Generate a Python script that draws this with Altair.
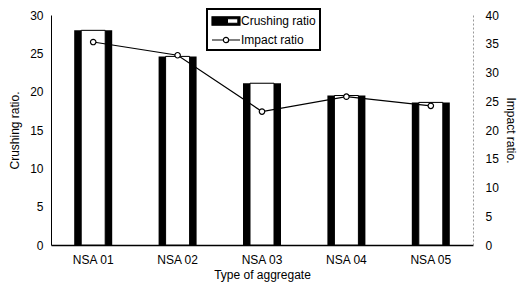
import altair as alt
import pandas as pd

types = ["NSA 01", "NSA 02", "NSA 03", "NSA 04", "NSA 05"]
crushing = [28.0, 24.6, 21.1, 19.5, 18.6]
impact = [35.3, 33.0, 23.2, 25.8, 24.2]
series = ["Crushing ratio", "Impact ratio"]
left_ticks = [0, 5, 10, 15, 20, 25, 30]
right_ticks = [0, 5, 10, 15, 20, 25, 30, 35, 40]

df = pd.DataFrame({"type": types, "crushing": crushing, "impact": impact})
df["series"] = series[1]

FONT = "Liberation Sans"

rect_path = "M-1,-0.6H3V0.6H-1Z M1.2,-0.32V0.32H2.7V-0.32Z"
line_path = ("M-1,0H0.62 M1.38,0H3 M0.62,0A0.38,0.38 0 1,0 1.38,0"
             "A0.38,0.38 0 1,0 0.62,0")

base = alt.Chart(df)
x = alt.X("type:N", sort=types, title="Type of aggregate",
          axis=alt.Axis(labelAngle=0, ticks=False, domainColor="black",
                        domainWidth=1.5, labelPadding=9, titlePadding=4,
                        labelFontSize=12, titleFontSize=12, labelColor="black",
                        titleColor="black", titleFontWeight="normal", labelFont=FONT,
                        titleFont=FONT))

yleft = alt.Y("crushing:Q", scale=alt.Scale(domain=[0, 30]), title="Crushing ratio.",
              axis=alt.Axis(values=left_ticks, ticks=False, labelPadding=8,
                            labelOverlap=False,
                            domainColor="black", domainWidth=1, grid=False,
                            labelFontSize=12, titleFontSize=12, labelColor="black",
                            titleColor="black", titleFontWeight="normal",
                            labelFont=FONT, titleFont=FONT, titlePadding=8))

black_bars = base.mark_bar(color="black", size=38).encode(x=x, y=yleft)
white_bars = base.mark_bar(color="white", size=24, stroke="black", strokeWidth=1).encode(
    x=x, y=yleft)

yright = alt.Y("impact:Q", scale=alt.Scale(domain=[0, 40]), title="Impact ratio.",
               axis=alt.Axis(orient="right", values=right_ticks, ticks=False,
                             labelOverlap=False,
                             labelPadding=12, domainColor="#999", domainDash=[2, 2],
                             domainWidth=1, grid=False, labelFontSize=12,
                             titleFontSize=12, labelColor="black", titleColor="black",
                             titleFontWeight="normal", labelFont=FONT, titleFont=FONT,
                             titlePadding=5))

shape_expr = ("datum.value === 'Crushing ratio' ? '" + rect_path + "' : '"
              + line_path + "'")

line = base.mark_line(color="black", strokeWidth=1.2).encode(x=x, y=yright)
points = base.mark_point(filled=True, stroke="black", size=30, strokeWidth=1.2,
                         opacity=1).encode(
    x=x, y=yright,
    fill=alt.Fill("series:N", scale=alt.Scale(domain=series, range=["black", "white"]),
                  legend=alt.Legend(
                      title=None, orient="none", legendX=156, legendY=-6,
                      symbolSize=196, symbolStrokeWidth=1.2, labelOffset=14,
                      symbolStrokeColor="black", symbolOpacity=1,
                      symbolType={"expr": shape_expr},
                      labelFontSize=12, labelFont=FONT, labelColor="black",
                      rowPadding=4, padding=4, strokeColor="black",
                      fillColor="white", cornerRadius=0)))

chart = alt.layer(
    alt.layer(black_bars, white_bars),
    alt.layer(line, points),
).resolve_scale(y="independent").properties(
    width=422, height=230,
    padding={"top": 0, "left": 0, "right": 0, "bottom": 6}
).configure_view(stroke=None).configure_legend(strokeWidth=2)

chart.save("out.html", embed_options={"renderer": "svg", "actions": False})
